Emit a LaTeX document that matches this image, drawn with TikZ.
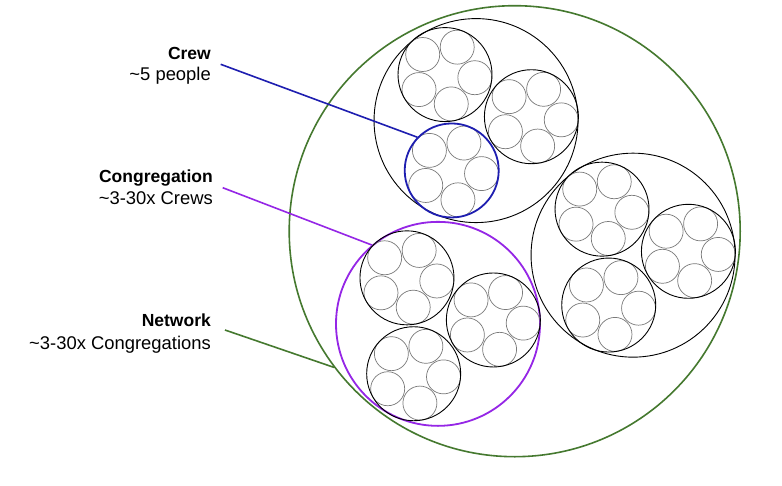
\documentclass[tikz,border=0pt]{standalone}
\usepackage{fontspec}
\setmainfont{Liberation Sans}
\definecolor{netgreen}{HTML}{45792F}
\definecolor{congpurple}{HTML}{9526E6}
\definecolor{crewblue}{HTML}{1E1EB0}
\definecolor{persongray}{HTML}{7A7A7A}
\begin{document}
\begin{tikzpicture}[x=1pt,y=-1pt,
  person/.style={circle,draw=persongray,line width=0.7pt,minimum size=34pt,inner sep=0pt},
  crew/.style={circle,draw=black,line width=0.9pt,minimum size=94pt,inner sep=0pt},
  cong/.style={circle,draw=black,line width=0.9pt,minimum size=204pt,inner sep=0pt},
  netw/.style={circle,draw=netgreen,line width=1.6pt,minimum size=451pt,inner sep=0pt},
  hlcrew1-3/.style={draw=crewblue,line width=1.8pt},
  hlcong3/.style={draw=congpurple,line width=1.8pt},
  lbltitle/.style={anchor=base east,font=\fontsize{17.5}{21}\selectfont\bfseries,inner sep=0pt},
  lblsub/.style={anchor=base east,font=\fontsize{18.4}{22}\selectfont,inner sep=0pt},
  leader/.style={line width=1.6pt}]
\useasboundingbox (0,0) rectangle (782,485);
\fill[white] (0,0) rectangle (782,485);
% congregations, crews, people
\foreach \g [count=\gi] in {109.4,-10.6,-130.6} {
  \pgfmathsetmacro{\gx}{515.7+119.4*cos(\g)}
  \pgfmathsetmacro{\gy}{233.2-119.4*sin(\g)}
  \node[cong,hlcong\gi/.try] (cong\gi) at (\gx,\gy) {};
  \foreach \c [count=\ci] in {124,4,-116} {
    \pgfmathsetmacro{\cx}{\gx+55.5*cos(\c)}
    \pgfmathsetmacro{\cy}{\gy-55.5*sin(\c)}
    \foreach \p [count=\pi] in {66,138,210,282,354} {
      \node[person] (p\gi-\ci-\pi) at ({\cx+30*cos(\p)},{\cy-30*sin(\p)}) {};
    }
    \node[crew,hlcrew\gi-\ci/.try] (crew\gi-\ci) at (\cx,\cy) {};
  }
}
\node[netw] (net) at (514.7,231.2) {};
% labels
\node[lbltitle] (crewT) at (211,59) {Crew};
\node[lblsub] (crewS) at (211,80.7) {\textasciitilde5 people};
\node[lbltitle] (congT) at (213,182.3) {Congregation};
\node[lblsub] (congS) at (213,204) {\textasciitilde3-30x Crews};
\node[lbltitle] (netT) at (211,326) {Network};
\node[lblsub] (netS) at (211,349.3) {\textasciitilde3-30x Congregations};
% leaders
\coordinate (crewL) at (220.7,64.3);
\coordinate (congL) at (222.7,187.7);
\coordinate (netL) at (225,330);
\draw[leader,crewblue] (crewL) -- (crew1-3.136.4);
\draw[leader,congpurple] (congL) -- (cong3.130.8);
\draw[leader,netgreen] (netL) -- (net.217.8);
\end{tikzpicture}
\end{document}
